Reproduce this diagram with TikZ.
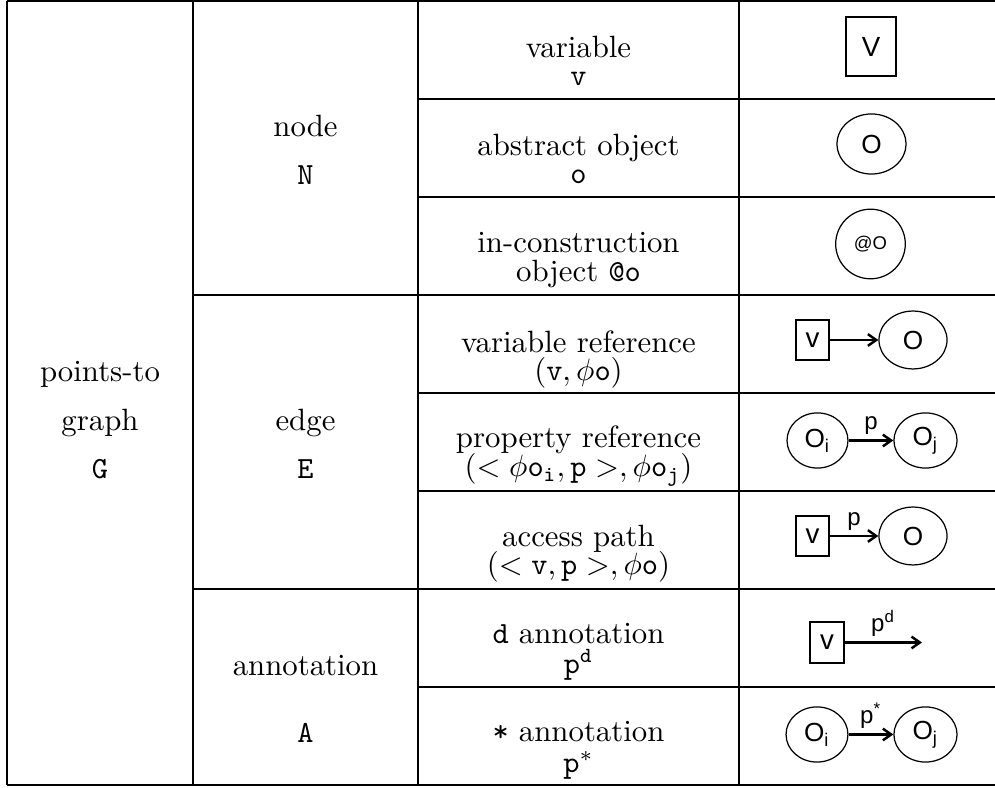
\documentclass[tikz,border=0pt]{standalone}
\usepackage{fontspec}
\newfontfamily\shapefont{Liberation Sans}
\usetikzlibrary{arrows.meta,shapes.geometric}

\begin{document}
\begin{tikzpicture}[x=0.3247pt,y=-0.3247pt,
  rule/.style={line width=0.4pt},
  txt/.style={anchor=base, inner sep=0pt, font=\fontsize{10}{12}\selectfont},
  varbox/.style={draw, rectangle, line width=0.5pt, inner sep=0pt,
    font=\shapefont\fontsize{9}{10}\selectfont},
  obj/.style={draw, ellipse, line width=0.4pt, inner sep=0pt,
    font=\shapefont\fontsize{8.5}{10}\selectfont},
  ref/.style={-{Straight Barb[length=2.7pt,width=3.8pt]}, line width=0.8pt},
  lab/.style={above, inner sep=1.5pt, font=\shapefont\fontsize{7.8}{9}\selectfont}
]
\useasboundingbox (0,0) rectangle (995,788);

% table grid
\draw[rule] (7,1) -- (995,1);
\draw[rule] (7,785) -- (995,785);
\draw[rule] (7,1) -- (7,785);
\draw[rule] (193,1) -- (193,785);
\draw[rule] (418,1) -- (418,785);
\draw[rule] (739,1) -- (739,785);
\foreach \y in {295,589} \draw[rule] (193,\y) -- (995,\y);
\foreach \y in {99,197,393,491,687} \draw[rule] (418,\y) -- (995,\y);

% first column
\node[txt] (g1) at (100,382) {points-to};
\node[txt] (g2) at (100,431) {graph};
\node[txt] (g3) at (100,479) {\texttt{G}};

% second column
\node[txt] (n1) at (305.5,137) {node};
\node[txt] (n2) at (305.5,185) {\texttt{N}};
\node[txt] (e1) at (305.5,431) {edge};
\node[txt] (e2) at (305.5,479) {\texttt{E}};
\node[txt] (a1) at (305.5,676) {annotation};
\node[txt] (a2) at (305.5,743) {\texttt{A}};

% third column
\node[txt] (r1a) at (578.5,58) {variable};
\node[txt] (r1b) at (578.5,86) {\texttt{v}};
\node[txt] (r2a) at (578.5,156) {abstract object};
\node[txt] (r2b) at (578.5,184) {\texttt{o}};
\node[txt] (r3a) at (578.5,253) {in-construction};
\node[txt] (r3b) at (578.5,282) {object \texttt{@o}};
\node[txt] (r4a) at (578.5,353) {variable reference};
\node[txt] (r4b) at (578.5,381) {$(\mathtt{v},\phi\mathtt{o})$};
\node[txt] (r5a) at (578.5,448) {property reference};
\node[txt] (r5b) at (578.5,477) {$(<\phi\mathtt{o}_{\mathtt{i}},\mathtt{p}>,\phi\mathtt{o}_{\mathtt{j}})$};
\node[txt] (r6a) at (578.5,547) {access path};
\node[txt] (r6b) at (578.5,575) {$(<\mathtt{v},\mathtt{p}>,\phi\mathtt{o})$};
\node[txt] (r7a) at (578.5,644) {\texttt{d} annotation};
\node[txt] (r7b) at (578.5,674) {$\mathtt{p}^{\mathtt{d}}$};
\node[txt] (r8a) at (578.5,742) {\texttt{*} annotation};
\node[txt] (r8b) at (578.5,773) {$\mathtt{p}^{*}$};

% fourth column: graph notation
\node[varbox, line width=0.65pt, minimum width=16.2pt, minimum height=19.2pt] (bigv) at (871,46.5) {V};
\node[obj, minimum width=22.4pt, minimum height=19.5pt] (ao) at (871.5,144) {O};
\node[draw, circle, line width=0.4pt, inner sep=0pt, minimum size=22.6pt,
  font=\shapefont\fontsize{6}{7}\selectfont] (ico) at (870.5,244) {@O};

% variable reference
\node[varbox, minimum width=10.7pt, minimum height=13pt] (v4) at (812.5,340) {v};
\node[obj, minimum width=22.1pt, minimum height=18.8pt] (o4) at (913,340) {O};
\draw[ref] (v4) -- (o4);

% property reference
\node[obj, minimum width=19.8pt, minimum height=17.9pt] (oi5) at (817.5,440.5) {O\textsubscript{i}};
\node[obj, minimum width=20.5pt, minimum height=17.9pt] (oj5) at (925.5,440.5) {O\textsubscript{j}};
\draw[ref] (oi5) -- node[lab] (p5) {p} (oj5);

% access path
\node[varbox, minimum width=10.7pt, minimum height=13pt] (v6) at (812.5,536) {v};
\node[obj, minimum width=22.1pt, minimum height=18.8pt] (o6) at (913,536) {O};
\draw[ref] (v6) -- node[lab] (p6) {p} (o6);

% d annotation
\node[varbox, minimum width=11pt, minimum height=13.3pt] (v7) at (827,642.5) {v};
\coordinate (end7) at (922,642.5);
\draw[ref] (v7) -- node[lab] (p7) {p\textsuperscript{d}} (end7);

% * annotation
\node[obj, minimum width=20.1pt, minimum height=17.9pt] (oi8) at (817,734.5) {O\textsubscript{i}};
\node[obj, minimum width=20.5pt, minimum height=17.9pt] (oj8) at (925.5,734.5) {O\textsubscript{j}};
\draw[ref] (oi8) -- node[lab] (p8) {p\textsuperscript{*}} (oj8);
\end{tikzpicture}
\end{document}
